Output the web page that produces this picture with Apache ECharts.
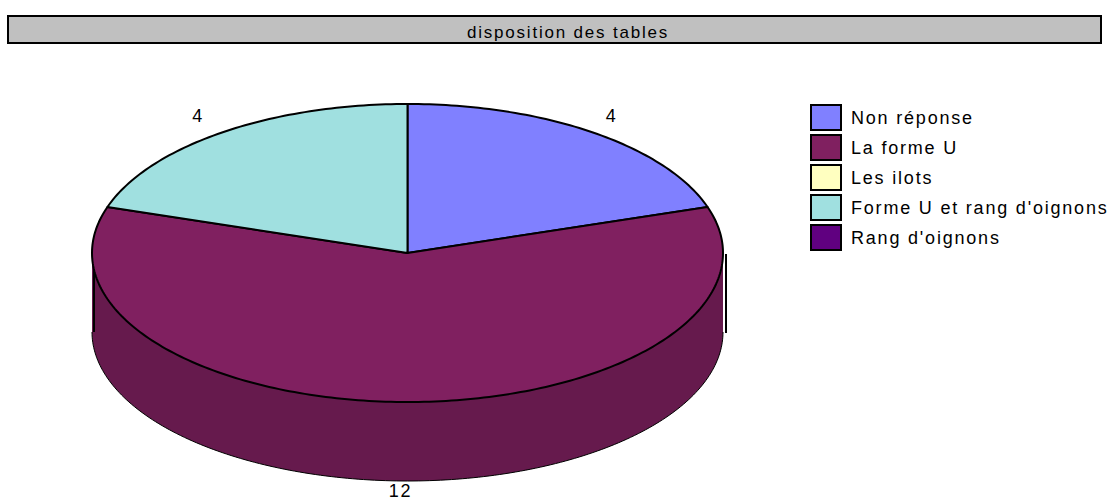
<!DOCTYPE html>
<html><head><meta charset="utf-8">
<style>
html,body{margin:0;padding:0;background:#fff}
#c{width:1109px;height:500px}
#c text{letter-spacing:1.8px}
</style>
<script src="https://cdn.jsdelivr.net/npm/echarts@6/dist/echarts.min.js"></script>
</head><body><div id="c"></div>
<script>
const titleText = 'disposition des tables';
const categories = ['Non réponse','La forme U','Les ilots',"Forme U et rang d'oignons","Rang d'oignons"];
const values = [4,12,0,4,0];
const colors = ['#8080ff','#802060','#ffffc0','#a0e0e0','#600080'];
const sideColors = ['#6666cc','#661a4d','#cccc99','#80b3b3','#4d0066'];

const CX=407.5, CY=253, RX=315.5, RY=149, DEPTH=79;
const total = values.reduce((a,b)=>a+b,0);
const pt=(deg,dy)=>{const r=deg*Math.PI/180;return [CX+RX*Math.sin(r),CY-RY*Math.cos(r)+(dy||0)];};
const arc=(a,b,dy)=>{const out=[];const n=Math.max(2,Math.ceil(Math.abs(b-a)));for(let i=0;i<=n;i++)out.push(pt(a+(b-a)*i/n,dy));return out;};

function renderer(idx){
  return function(){
    const v=values[idx];
    if(!v) return {type:'group',children:[]};
    const before=values.slice(0,idx).reduce((a,b)=>a+b,0);
    const a0=before/total*360, a1=(before+v)/total*360, mid=(a0+a1)/2;
    const kids=[];
    const s0=Math.max(a0,90), s1=Math.min(a1,270);
    if(s1>s0){
      kids.push({type:'polygon',shape:{points:arc(s0,s1,0).concat(arc(s1,s0,DEPTH))},style:{fill:sideColors[idx],stroke:null}});
      kids.push({type:'polyline',shape:{points:arc(s0,s1,DEPTH)},style:{fill:null,stroke:'#000',lineWidth:1}});
      const l=pt(s1,0), r=pt(s0,0);
      kids.push({type:'line',shape:{x1:l[0]+2,y1:l[1],x2:l[0]+2,y2:l[1]+DEPTH},style:{stroke:'#000',lineWidth:2}});
      kids.push({type:'line',shape:{x1:r[0]+3,y1:r[1]+1,x2:r[0]+3,y2:r[1]+DEPTH+1},style:{stroke:'#000',lineWidth:2}});
    }
    kids.push({type:'polygon',shape:{points:[[CX,CY]].concat(arc(a0,a1,0))},style:{fill:colors[idx],stroke:'#000',lineWidth:2,lineJoin:'round'}});
    const r=mid*Math.PI/180, c=Math.cos(r);
    const lx=CX+1.115*RX*Math.sin(r)-(c>0?2.5:7);
    const ly=c>0?CY-1.135*RY*c:CY-RY*c+DEPTH+10;
    kids.push({type:'text',x:lx,y:ly,style:{text:String(v),fill:'#000',font:'18px "Liberation Sans"',textAlign:'center',textVerticalAlign:'middle'}});
    return {type:'group',children:kids};
  };
}

const chart=echarts.init(document.getElementById('c'),null,{renderer:'svg',width:1109,height:500});
chart.setOption({
  animation:false,
  backgroundColor:'#fff',
  graphic:[{type:'rect',z:0,shape:{x:8,y:16,width:1093,height:27},style:{fill:'#c0c0c0',stroke:'#000',lineWidth:2}}],
  title:{text:titleText,left:563,top:19,textAlign:'center',z:5,textStyle:{fontFamily:'Liberation Sans',fontSize:17,fontWeight:'normal',color:'#000'}},
  legend:{
    orient:'vertical',left:810,top:104,padding:0,itemWidth:30,itemHeight:25,itemGap:3,selectedMode:false,icon:'rect',
    data:categories.map((n,i)=>({name:n,itemStyle:{color:colors[i],borderColor:'#000',borderWidth:2}})),
    textStyle:{fontFamily:'Liberation Sans',fontSize:18,color:'#000',padding:[0,0,0,5]}
  },
  tooltip:{show:false},
  series:categories.map((n,i)=>({name:n,type:'custom',coordinateSystem:'none',silent:true,itemStyle:{color:colors[i]},renderItem:renderer(i),data:[[values[i]]]}))
});
</script></body></html>
